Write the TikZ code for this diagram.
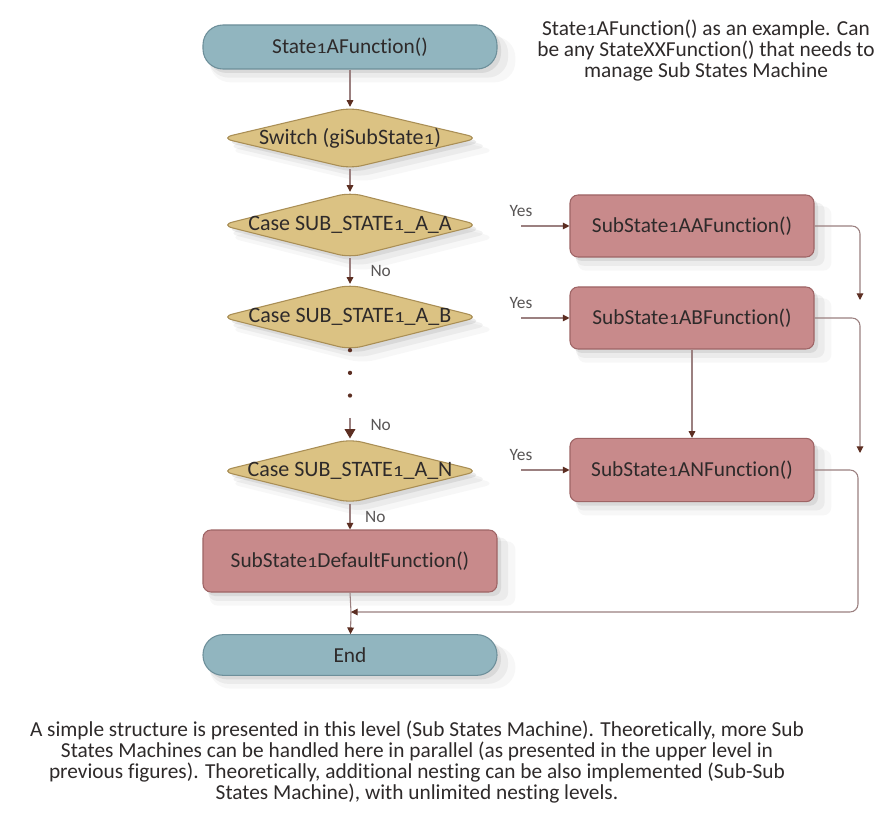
\documentclass[tikz,border=0pt]{standalone}
\usepackage{fontspec}
\setmainfont{Carlito}[Ligatures={NoCommon,NoContextual}]
\newcommand\oldone{\scalebox{0.95}[0.7]{1}}
\usetikzlibrary{shapes.geometric,shadows,arrows.meta}
\definecolor{pillfill}{HTML}{91B5BF}
\definecolor{pilldraw}{HTML}{6D8F9A}
\definecolor{diafill}{HTML}{DBC283}
\definecolor{diadraw}{HTML}{A98E55}
\definecolor{boxfill}{HTML}{C88A8B}
\definecolor{boxdraw}{HTML}{9E6465}
\definecolor{linecol}{HTML}{9B8080}
\definecolor{tipcol}{HTML}{5C2E22}
\definecolor{txt}{HTML}{2E2A2A}
\tikzset{
  softshadow/.style={drop shadow={opacity=0.16, shadow xshift=3pt, shadow yshift=-3pt},
                     drop shadow={opacity=0.10, shadow xshift=6pt, shadow yshift=-6pt, shadow scale=1.02},
                     drop shadow={opacity=0.06, shadow xshift=9pt, shadow yshift=-9pt, shadow scale=1.04}},
  pill/.style={draw=pilldraw, fill=pillfill, line width=0.8pt, rounded corners=15pt,
               minimum width=220.5pt, text=txt, font=\fontsize{16}{18}\selectfont, softshadow},
  dia/.style={diamond, draw=diadraw, fill=diafill, line width=0.8pt, aspect=4.2, inner sep=0pt,
              rounded corners=9pt, minimum width=194pt, text=txt, font=\fontsize{16.5}{18}\selectfont, softshadow},
  fbox/.style={draw=boxdraw, fill=boxfill, line width=0.8pt, rounded corners=6pt,
               text=txt, font=\fontsize{16}{18}\selectfont, softshadow},
  conn/.style={draw=linecol, line width=0.8pt, -{Triangle[length=5pt,width=5pt,color=tipcol]}},
  lbl/.style={text=txt!80, font=\fontsize{13}{14}\selectfont, inner sep=1pt},
  note/.style={text=txt, align=center, font=\fontsize{16}{15.75}\selectfont},
}
\begin{document}
\begin{tikzpicture}[x=0.75pt, y=-0.75pt]
\useasboundingbox[fill=white] (0,0) rectangle (896,816);

% coordinates of free ends
\coordinate (yA) at (521,226);
\coordinate (yB) at (521,318);
\coordinate (yN) at (521,470);
\coordinate (aaEnd) at (860,300);
\coordinate (abEnd) at (860,453);
\coordinate (mrgCorner) at (858,612);
\coordinate (mrg) at (351,612);
\coordinate (dotEnd) at (350,418);

% nodes
\node[pill, minimum height=33pt] (start) at (350,47) {State\oldone AFunction()};
\node[dia, minimum height=46pt] (sw) at (350,138) {\makebox[0pt]{Switch (giSubState\oldone)}};
\node[dia, minimum height=49pt] (ca) at (350,225) {\makebox[0pt]{Case SUB\_STATE\oldone\_A\_A}};
\node[dia, minimum height=49pt] (cb) at (350,317) {\makebox[0pt]{Case SUB\_STATE\oldone\_A\_B}};
\node[dia, minimum height=48pt] (cn) at (350,471) {\makebox[0pt]{Case SUB\_STATE\oldone\_A\_N}};
\node[fbox, minimum width=220.5pt, minimum height=46.5pt] (def) at (350,561) {SubState\oldone DefaultFunction()};
\node[pill, minimum height=30.5pt] (endn) at (350,655) {End};

\node[fbox, minimum width=183pt, minimum height=46.5pt] (aa) at (692,226) {SubState\oldone AAFunction()};
\node[fbox, minimum width=183pt, minimum height=46.5pt] (ab) at (692,318) {SubState\oldone ABFunction()};
\node[fbox, minimum width=183pt, minimum height=47.5pt] (an) at (692,470) {SubState\oldone ANFunction()};

\node[note] (topnote) at (706,51) {State\oldone AFunction() as an example. Can\\be any StateXXFunction() that needs to\\manage Sub States Machine};

\node[note] (bottomnote) at (417,762) {A simple structure is presented in this level (Sub States Machine). Theoretically, more Sub\\States Machines can be handled here in parallel (as presented in the upper level in\\previous figures). Theoretically, additional nesting can be also implemented (Sub-Sub\\States Machine), with unlimited nesting levels.};

% main column connectors
\draw[conn] (start) -- (sw);
\draw[conn] (sw) -- (ca);
\draw[conn] (ca) -- (cb) node[lbl, midway, right=14pt] {No};
\draw[draw=tipcol, line width=3.2pt, line cap=round, dash pattern=on 0pt off 17pt] (cb.south) -- (dotEnd);
\draw[draw=linecol, line width=0.8pt, -{Triangle[length=7pt,width=8pt,color=tipcol]}] (dotEnd) -- (cn.north) node[lbl, pos=0.35, right=14pt] {No};
\draw[conn] (cn) -- (def) node[lbl, midway, right=10pt] {No};
\draw[draw=linecol, line width=0.8pt] (def.south) -- (mrg);
\draw[conn] (mrg) -- (endn);

% yes branches
\draw[conn] (yA) -- (aa) node[lbl, pos=0, above=6pt] {Yes};
\draw[conn] (yB) -- (ab) node[lbl, pos=0, above=6pt] {Yes};
\draw[conn] (yN) -- (an) node[lbl, pos=0, above=6pt] {Yes};

% right side exits
\draw[conn, rounded corners=6pt] (aa.east) -| (aaEnd);
\draw[conn, rounded corners=6pt] (ab.east) -| (abEnd);
\draw[conn] (ab.south) -- (an.north);
\draw[conn, rounded corners=6pt] (an.east) -| (mrgCorner) -- (mrg);
\end{tikzpicture}
\end{document}
